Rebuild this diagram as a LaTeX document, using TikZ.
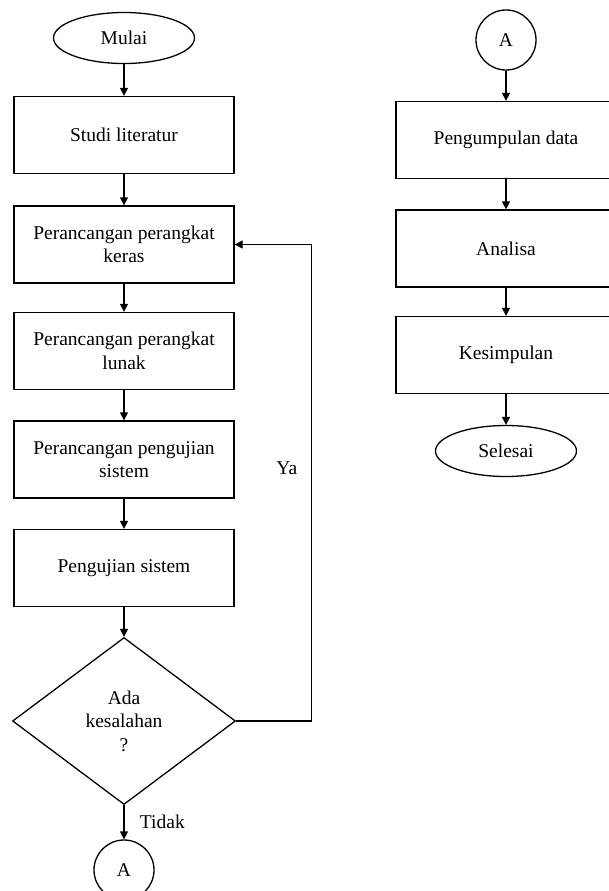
\documentclass[tikz,border=0pt]{standalone}
\usepackage{fontspec}
\setmainfont{Liberation Serif}
\usetikzlibrary{shapes.geometric,arrows.meta,positioning}

\begin{document}
\begin{tikzpicture}[x=1pt, y=-1pt, node distance={108pt}, line width=1.3pt,
	>={Triangle[length=8pt,width=8pt]},
	font=\fontsize{19.5}{23.5}\selectfont,
	main/.style = {draw, rectangle, minimum width=220pt, minimum height=77pt, align=center},
	term/.style = {draw, ellipse, minimum width=141pt, minimum height=51pt},
	conn/.style = {draw, circle, minimum size=60pt},
	cek/.style = {draw, diamond, minimum width=223pt, minimum height=167pt, align=center}]
	\useasboundingbox (0,0) rectangle (608,891);
	% kolom kiri
	\node[term] (1) at (124,38) {Mulai};
	\node[main] (2) [below of=1, node distance=97pt] {Studi literatur};
	\node[main] (3) [below of=2, node distance=109.5pt] {Perancangan perangkat\\keras};
	\node[main] (4) [below of=3, node distance=106.5pt] {Perancangan perangkat\\lunak};
	\node[main] (5) [below of=4, node distance=108.5pt] {Perancangan pengujian\\sistem};
	\node[main] (6) [below of=5, node distance=108.5pt] {Pengujian sistem};
	\node[cek] (7) [below of=6, node distance=153pt] {Ada\\kesalahan\\?};
	\node[conn] (8) [below of=7, node distance=149pt] {A};
	% kolom kanan
	\node[conn] (9) at (506,40) {A};
	\node[main] (10) [below of=9, node distance=100pt] {Pengumpulan data};
	\node[main] (11) [below of=10, node distance=108.5pt] {Analisa};
	\node[main] (12) [below of=11, node distance=106.5pt] {Kesimpulan};
	\node[term] (13) [below of=12, node distance=96pt] {Selesai};
	\path[->]
		(1) edge (2)
		(2) edge (3)
		(3) edge (4)
		(4) edge (5)
		(5) edge (6)
		(6) edge (7)
		(7) edge node [right=12pt] {Tidak} (8);
	\path[->]
		(9) edge (10)
		(10) edge (11)
		(11) edge (12)
		(12) edge (13);
	\draw[->] (7.east) -- ++(75,0) |- node [pos=0.265, left=10pt] {Ya} (3.east);
\end{tikzpicture}
\end{document}
